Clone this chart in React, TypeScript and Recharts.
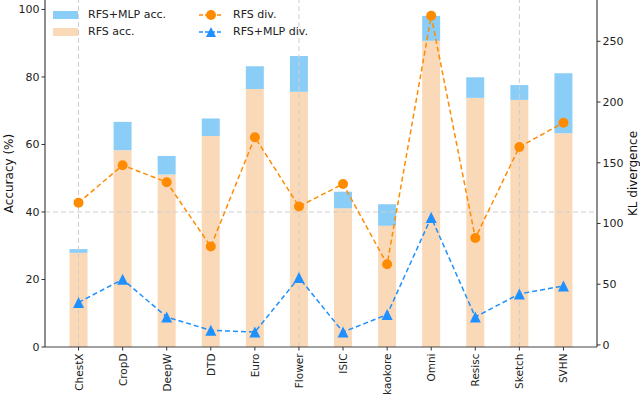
import React from 'react'
import {
  Bar,
  ComposedChart,
  Label,
  Line,
  ReferenceLine,
  XAxis,
  YAxis,
} from 'recharts'

const categories = ['ChestX', 'CropD', 'DeepW', 'DTD', 'Euro', 'Flower', 'ISIC', 'kaokore', 'Omni', 'Resisc', 'Sketch', 'SVHN']
const rfsAcc = [27.9, 58.3, 51.1, 62.5, 76.4, 75.6, 41.1, 35.9, 90.7, 73.8, 73.2, 63.3]
const mlpAcc = [29.0, 66.7, 56.6, 67.7, 83.2, 86.2, 46.0, 42.3, 98.1, 79.9, 77.6, 81.1]
const rfsDiv = [117, 148, 134, 81, 171, 114, 132.5, 66.5, 271, 88, 163, 183]
const mlpDiv = [35, 54, 23, 12, 10.6, 55.5, 10.6, 25, 105, 23, 42, 48.6]

const accTicks = [0, 20, 40, 60, 80, 100]
const klTicks = [0, 50, 100, 150, 200, 250]
const gridCats = ['ChestX', 'Flower', 'Sketch']

const PEACH = '#fad9b9'
const SKY = '#8acef8'
const ORANGE = '#ff8c00'
const BLUE = '#1e90ff'
const FONT = 'DejaVu Sans, sans-serif'

const data = categories.map((name, i) => ({
  name,
  rfs: rfsAcc[i],
  gain: +(mlpAcc[i] - rfsAcc[i]).toFixed(2),
  rfsDiv: rfsDiv[i],
  mlpDiv: mlpDiv[i],
}))

const XTick = (props: any) => {
  const { x, y, payload } = props
  return (
    <text
      x={x}
      y={y + 1}
      transform={`rotate(-90, ${x}, ${y + 1})`}
      textAnchor="end"
      dominantBaseline="central"
      fontSize={10.5}
      fontFamily={FONT}
      fill="#222"
    >
      {payload.value}
    </text>
  )
}

const Triangle = (props: any) => {
  const { cx, cy } = props
  if (cx == null || cy == null) return null
  const s = 5.5
  return <path d={`M${cx},${cy - s} L${cx - s},${cy + s} L${cx + s},${cy + s} Z`} fill={BLUE} />
}

// rotated axis title drawn at a fixed x, centred on the plot height
const axisTitle = (text: string, cx: number) => (props: any) => {
  const vb = props.viewBox
  const cy = vb.y + vb.height / 2
  return (
    <text
      x={cx}
      y={cy}
      transform={`rotate(-90, ${cx}, ${cy})`}
      textAnchor="middle"
      dominantBaseline="central"
      fontSize={12}
      fontFamily={FONT}
      fill="#111"
    >
      {text}
    </text>
  )
}

const LegendBox = () => {
  const row = { display: 'flex', alignItems: 'center', height: 17 }
  const txt = { fontSize: 11, fontFamily: FONT, color: '#222', marginLeft: 10 }
  const lineKey = (color: string, tri: boolean) => (
    <svg width={24} height={12}>
      <line x1={0} y1={6} x2={24} y2={6} stroke={color} strokeWidth={1.5} strokeDasharray="4 2" />
      {tri ? (
        <path d="M12,1 L7,11 L17,11 Z" fill={color} />
      ) : (
        <circle cx={12} cy={6} r={5} fill={color} />
      )}
    </svg>
  )
  return (
    <div style={{ position: 'absolute', top: 6, left: 53, display: 'flex' }}>
      <div style={{ width: 146 }}>
        <div style={row}>
          <div style={{ width: 25, height: 8, background: SKY }} />
          <span style={txt}>RFS+MLP acc.</span>
        </div>
        <div style={row}>
          <div style={{ width: 25, height: 8, background: PEACH }} />
          <span style={txt}>RFS acc.</span>
        </div>
      </div>
      <div>
        <div style={row}>
          {lineKey(ORANGE, false)}
          <span style={txt}>RFS div.</span>
        </div>
        <div style={row}>
          {lineKey(BLUE, true)}
          <span style={txt}>RFS+MLP div.</span>
        </div>
      </div>
    </div>
  )
}

export default function App() {
  return (
    <div style={{ position: 'absolute', left: 0, top: 0, width: 640, height: 395, background: '#fff' }}>
      <ComposedChart
        width={640}
        height={395}
        data={data}
        margin={{ top: 0, left: 5, right: 3, bottom: 3 }}
        barCategoryGap={0}
      >
        <XAxis
          dataKey="name"
          padding={{ left: 11.5, right: 11.5 }}
          tick={<XTick />}
          tickLine={{ stroke: '#333' }}
          tickSize={3.5}
          axisLine={{ stroke: '#444', strokeWidth: 1.2 }}
          interval={0}
          height={45}
        />
        <YAxis
          yAxisId="acc"
          width={40}
          domain={[0, 102.8]}
          ticks={accTicks}
          allowDataOverflow
          tickSize={3.5}
          tickLine={{ stroke: '#333' }}
          axisLine={{ stroke: '#444', strokeWidth: 1.2 }}
          tick={{ fontSize: 11, fontFamily: FONT, fill: '#222' }}
        >
          <Label content={axisTitle('Accuracy (%)', 9)} />
        </YAxis>
        <YAxis
          yAxisId="kl"
          orientation="right"
          width={40}
          domain={[-1.7, 284]}
          ticks={klTicks}
          allowDataOverflow
          tickSize={3.5}
          tickLine={{ stroke: '#333' }}
          axisLine={{ stroke: '#444', strokeWidth: 1.2 }}
          tick={{ fontSize: 11, fontFamily: FONT, fill: '#222' }}
        >
          <Label content={axisTitle('KL divergence', 633)} />
        </YAxis>
        <Bar yAxisId="acc" dataKey="rfs" stackId="a" fill={PEACH} barSize={18} isAnimationActive={false} />
        <Bar yAxisId="acc" dataKey="gain" stackId="a" fill={SKY} barSize={18} isAnimationActive={false} />
        {gridCats.map((c) => (
          <ReferenceLine key={c} yAxisId="acc" x={c} stroke="#cfcfcf" strokeDasharray="5 3" strokeWidth={1} />
        ))}
        <ReferenceLine yAxisId="acc" y={40} stroke="#cfcfcf" strokeDasharray="5 3" strokeWidth={1} />
        <Line
          yAxisId="kl"
          dataKey="rfsDiv"
          stroke={ORANGE}
          strokeWidth={1.5}
          strokeDasharray="5 3"
          dot={{ r: 5, fill: ORANGE, stroke: ORANGE, strokeWidth: 0 }}
          isAnimationActive={false}
        />
        <Line
          yAxisId="kl"
          dataKey="mlpDiv"
          stroke={BLUE}
          strokeWidth={1.5}
          strokeDasharray="5 3"
          dot={<Triangle />}
          isAnimationActive={false}
        />
      </ComposedChart>
      <LegendBox />
    </div>
  )
}
